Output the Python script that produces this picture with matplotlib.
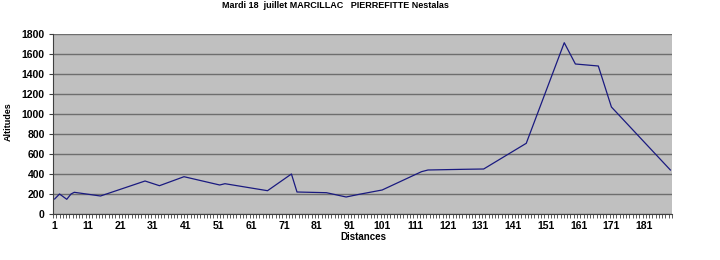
import numpy as np
import matplotlib
matplotlib.use("Agg")
import matplotlib.pyplot as plt

title = "Mardi 18  juillet MARCILLAC   PIERREFITTE Nestalas"
distances = [1, 2.5, 4.7, 6, 7, 15, 28.6, 33, 40.5, 51.4, 53, 66, 73.3, 75, 84, 90, 94,
             101, 113, 115, 126, 132, 145, 156.6, 160, 167, 171, 189]
altitudes = [150, 200, 147, 200, 217, 180, 330, 283, 373, 290, 303, 233, 400, 220, 213, 170, 197,
             240, 423, 440, 447, 450, 707, 1713, 1500, 1480, 1070, 440]
n_categories = 189
label_ticks = list(range(1, 182, 10))
y_ticks = list(range(0, 1801, 200))

plt.rcParams['font.family'] = ['Liberation Sans', 'DejaVu Sans']

fig = plt.figure(figsize=(7.2, 2.6), dpi=100)
fig.patch.set_facecolor('white')
ax = fig.add_axes([53/720, (260-214)/260, (672-53)/720, (214-34)/260])
ax.set_facecolor('#C0C0C0')

ax.plot(distances, altitudes, color='#1a1a80', lw=0.9)

ax.set_xlim(0.5, n_categories + 0.5)
ax.set_ylim(0, 1800)
ax.set_yticks(y_ticks)
ax.yaxis.grid(True, color='#6e6e6e', lw=1.0)
ax.set_axisbelow(True)

ax.set_xticks(label_ticks)
ax.set_xticks(np.arange(0.5, n_categories + 1, 1), minor=True)
ax.tick_params(axis='x', which='major', length=0, pad=5, labelsize=7.5)
ax.tick_params(axis='x', which='minor', length=3, width=0.6, color='#404040', direction='out')
ax.tick_params(axis='y', which='major', length=3, width=0.8, color='#404040', labelsize=7.5, pad=3)
for lbl in ax.get_xticklabels() + ax.get_yticklabels():
    lbl.set_fontweight('bold')

for s in ['top', 'right']:
    ax.spines[s].set_visible(False)
ax.spines['left'].set_color('#404040')
ax.spines['bottom'].set_color('#404040')
ax.spines['left'].set_linewidth(0.8)
ax.spines['bottom'].set_linewidth(0.8)

fig.text(335/720, 1 - 5/260, title, ha='center', va='center', fontsize=6.5, fontweight='bold')
fig.text(8/720, 1 - 122/260, 'Altitudes', ha='center', va='center', rotation=90, fontsize=6.5, fontweight='bold')
fig.text(363/720, 1 - 237/260, 'Distances', ha='center', va='center', fontsize=7, fontweight='bold')

fig.savefig('out.png', dpi=100)
